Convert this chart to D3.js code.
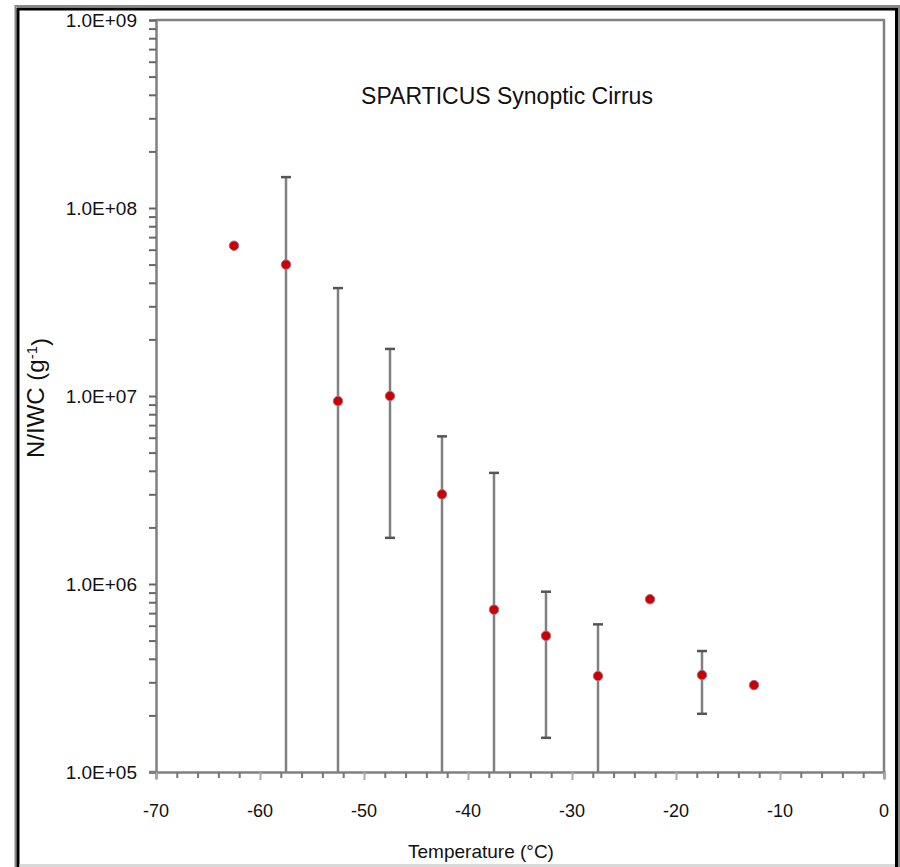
<!DOCTYPE html>
<html>
<head>
  <meta charset="utf-8">
  <script src="https://cdn.jsdelivr.net/npm/d3@7"></script>
  <style>
    body { margin:0; background:#fff; }
    text { font-family: "Liberation Sans", Arial, sans-serif; fill:#111; }
  </style>
</head>
<body>
<svg width="900" height="867"></svg>
<script>
// temperature bin centres (°C)
var temps  = [-62.5, -57.5, -52.5, -47.5, -42.5, -37.5, -32.5, -27.5, -22.5, -17.5, -12.5];
// N/IWC mean values (g^-1)
var ratio  = [6.3e7, 5.0e7, 9.4e6, 1.0e7, 3.0e6, 7.3e5, 5.3e5, 3.24e5, 8.3e5, 3.28e5, 2.9e5];
// error bar bounds (null = no bar); lower bound 1e5 means it runs off the axis
var errHi  = [null, 1.46e8, 3.75e7, 1.78e7, 6.1e6, 3.9e6, 9.1e5, 6.1e5, null, 4.4e5, null];
var errLo  = [null, 1e5, 1e5, 1.76e6, 1e5, 1e5, 1.52e5, 1e5, null, 2.04e5, null];

var xTicks = [-70, -60, -50, -40, -30, -20, -10, 0];
var yTicks = [1e5, 1e6, 1e7, 1e8, 1e9];
var yTickLabels = ["1.0E+05", "1.0E+06", "1.0E+07", "1.0E+08", "1.0E+09"];

var svg = d3.select("svg");
var axisCol = "#808080";

// outer frame
svg.append("line").attr("x1", 15).attr("x2", 900).attr("y1", 6).attr("y2", 6).attr("stroke", "#888").attr("stroke-width", 2);
svg.append("line").attr("x1", 15.5).attr("x2", 15.5).attr("y1", 5).attr("y2", 867).attr("stroke", "#888").attr("stroke-width", 2);
svg.append("line").attr("x1", 17).attr("x2", 898).attr("y1", 9).attr("y2", 9).attr("stroke", "#000").attr("stroke-width", 3);
svg.append("line").attr("x1", 18).attr("x2", 18).attr("y1", 8).attr("y2", 867).attr("stroke", "#000").attr("stroke-width", 3);
svg.append("line").attr("x1", 896.5).attr("x2", 896.5).attr("y1", 8).attr("y2", 867).attr("stroke", "#000").attr("stroke-width", 3);
svg.append("line").attr("x1", 899).attr("x2", 899).attr("y1", 5).attr("y2", 867).attr("stroke", "#888").attr("stroke-width", 2);
svg.append("line").attr("x1", 19.5).attr("x2", 895).attr("y1", 865.5).attr("y2", 865.5).attr("stroke", "#d9d9d9").attr("stroke-width", 3);

var pLeft = 156, pRight = 884, pTop = 20, pBottom = 772;

var x = d3.scaleLinear().domain([-70, 0]).range([pLeft, pRight]);
var y = d3.scaleLog().domain([1e5, 1e9]).range([pBottom, pTop]);

// plot area border (top & right)
svg.append("line").attr("x1", pLeft).attr("x2", pRight + 1).attr("y1", pTop).attr("y2", pTop).attr("stroke", axisCol).attr("stroke-width", 2.5);
svg.append("line").attr("x1", pRight).attr("x2", pRight).attr("y1", pTop).attr("y2", pBottom).attr("stroke", axisCol).attr("stroke-width", 2.5);

// y axis: ticks at 1..9 per decade
var yMinor = [];
for (var e = 5; e < 9; e++) for (var m = 1; m < 10; m++) yMinor.push(m * Math.pow(10, e));
yMinor.push(1e9);
var yAxis = d3.axisLeft(y).tickValues(yMinor).tickSize(7).tickFormat("");
var gy = svg.append("g").attr("transform", "translate(" + pLeft + ",0)").call(yAxis);
gy.select(".domain").attr("stroke", axisCol).attr("stroke-width", 2.5);
gy.selectAll(".tick line").attr("stroke", "#666").attr("stroke-width", 2);

svg.selectAll(".ylab").data(yTicks).enter().append("text")
  .attr("class", "ylab")
  .attr("x", 137).attr("y", function(d) { return y(d); })
  .attr("dy", "0.36em").attr("text-anchor", "end")
  .style("font-size", "19px")
  .text(function(d, i) { return yTickLabels[i]; });

// x axis: ticks every 2 degrees
var xAxis = d3.axisBottom(x).tickValues(d3.range(-70, 1, 2)).tickSize(7).tickFormat("");
var gx = svg.append("g").attr("transform", "translate(0," + pBottom + ")").call(xAxis);
gx.select(".domain").attr("stroke", axisCol).attr("stroke-width", 2.5);
gx.selectAll(".tick line").attr("stroke", function(d) { return d % 10 === 0 ? "#aaa" : "#777"; })
  .attr("stroke-width", 2)
  .attr("y2", function(d) { return d % 10 === 0 ? 8 : 6; });
// axis line runs a bit past the y axis
svg.append("line").attr("x1", 149).attr("x2", pLeft).attr("y1", pBottom).attr("y2", pBottom).attr("stroke", axisCol).attr("stroke-width", 2.5);

svg.selectAll(".xlab").data(xTicks).enter().append("text")
  .attr("class", "xlab")
  .attr("x", function(d) { return x(d); }).attr("y", 817)
  .attr("text-anchor", "middle")
  .style("font-size", "18px")
  .text(function(d) { return d; });

// error bars
var bars = temps.map(function(t, i) { return { t: t, hi: errHi[i], lo: errLo[i] }; })
  .filter(function(d) { return d.hi !== null; });
svg.selectAll(".eb").data(bars).enter().append("line")
  .attr("x1", function(d) { return x(d.t); }).attr("x2", function(d) { return x(d.t); })
  .attr("y1", function(d) { return y(d.hi); }).attr("y2", function(d) { return y(d.lo); })
  .attr("stroke", axisCol).attr("stroke-width", 2.5);
svg.selectAll(".capHi").data(bars).enter().append("line")
  .attr("x1", function(d) { return x(d.t) - 5; }).attr("x2", function(d) { return x(d.t) + 5; })
  .attr("y1", function(d) { return y(d.hi); }).attr("y2", function(d) { return y(d.hi); })
  .attr("stroke", "#555").attr("stroke-width", 2.5);
svg.selectAll(".capLo").data(bars.filter(function(d) { return d.lo > 1e5; })).enter().append("line")
  .attr("x1", function(d) { return x(d.t) - 5; }).attr("x2", function(d) { return x(d.t) + 5; })
  .attr("y1", function(d) { return y(d.lo); }).attr("y2", function(d) { return y(d.lo); })
  .attr("stroke", "#555").attr("stroke-width", 2.5);

// markers
var pts = temps.map(function(t, i) { return { t: t, v: ratio[i] }; });
svg.selectAll(".pt").data(pts).enter().append("path")
  .attr("d", d3.symbol().type(d3.symbolCircle).size(70))
  .attr("transform", function(d) { return "translate(" + x(d.t) + "," + y(d.v) + ")"; })
  .attr("fill", "#cc0000").attr("stroke", "#a07090").attr("stroke-width", 1);

// titles
svg.append("text").attr("x", 507).attr("y", 104).attr("text-anchor", "middle")
  .style("font-size", "23px").text("SPARTICUS Synoptic Cirrus");

svg.append("text").attr("x", 481).attr("y", 858).attr("text-anchor", "middle")
  .style("font-size", "19px").text("Temperature (°C)");

var yt = svg.append("text").attr("transform", "translate(44,398) rotate(-90)")
  .attr("text-anchor", "middle").style("font-size", "24px");
yt.append("tspan").text("N/IWC (g");
yt.append("tspan").attr("dy", "-0.45em").style("font-size", "15px").text("-1");
yt.append("tspan").attr("dy", "0.45em").text(")");
</script>
</body>
</html>
